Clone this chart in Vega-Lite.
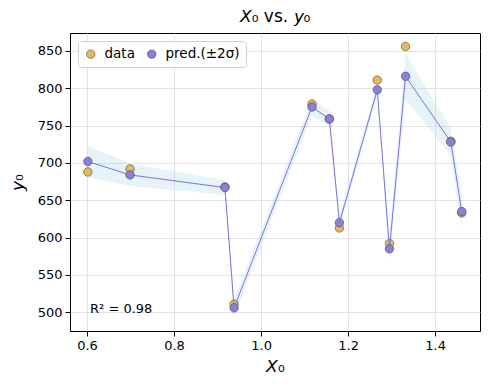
{
  "$schema": "https://vega.github.io/schema/vega-lite/v6.json",
  "width": 410,
  "height": 298,
  "autosize": "none",
  "padding": {"left": 70, "top": 33, "right": 10, "bottom": 59},
  "background": "white",
  "title": {"text": "𝘟₀ vs. 𝘺₀", "font": "DejaVu Sans", "fontSize": 17, "fontWeight": "normal", "color": "black", "offset": 7},
  "config": {
    "view": {"stroke": "black", "strokeWidth": 1},
    "font": "DejaVu Sans",
    "axis": {
      "domain": false,
      "grid": true,
      "gridColor": "#dcdcdc",
      "gridWidth": 0.8,
      "tickColor": "black",
      "tickSize": 5,
      "tickWidth": 1,
      "labelFont": "DejaVu Sans",
      "labelFontSize": 13,
      "labelColor": "black",
      "labelPadding": 3,
      "titleFont": "DejaVu Sans",
      "titleFontSize": 17,
      "titleFontWeight": "normal",
      "titleColor": "black"
    }
  },
  "data": {
    "values": [
      {"x": 0.602, "y": 688, "pred": 702, "lo": 681, "hi": 723},
      {"x": 0.699, "y": 692, "pred": 684, "lo": 669, "hi": 699},
      {"x": 0.917, "y": 668, "pred": 667, "lo": 657, "hi": 677},
      {"x": 0.938, "y": 511, "pred": 506, "lo": 494, "hi": 518},
      {"x": 1.117, "y": 779, "pred": 775, "lo": 764, "hi": 786},
      {"x": 1.157, "y": 759, "pred": 759, "lo": 748, "hi": 770},
      {"x": 1.180, "y": 613, "pred": 620, "lo": 611, "hi": 629},
      {"x": 1.267, "y": 811, "pred": 798, "lo": 790, "hi": 806},
      {"x": 1.295, "y": 592, "pred": 585, "lo": 569, "hi": 601},
      {"x": 1.332, "y": 856, "pred": 816, "lo": 785, "hi": 847},
      {"x": 1.436, "y": 729, "pred": 728, "lo": 710, "hi": 746},
      {"x": 1.461, "y": 633, "pred": 635, "lo": 611, "hi": 659}
    ]
  },
  "encoding": {
    "x": {
      "field": "x", "type": "quantitative",
      "scale": {"domain": [0.561, 1.503], "nice": false, "zero": false},
      "axis": {"values": [0.6, 0.8, 1.0, 1.2, 1.4], "format": ".1f", "title": "𝘟₀", "titlePadding": 6}
    }
  },
  "layer": [
    {
      "mark": {"type": "area", "color": "#add8e6", "opacity": 0.3},
      "encoding": {
        "y": {"field": "lo", "type": "quantitative"},
        "y2": {"field": "hi"}
      }
    },
    {
      "mark": {"type": "point", "filled": true, "size": 72, "opacity": 1, "stroke": "#4a4a4a", "strokeWidth": 0.6},
      "encoding": {
        "y": {
          "field": "y", "type": "quantitative",
          "scale": {"domain": [475, 874], "nice": false, "zero": false},
          "axis": {"values": [500, 550, 600, 650, 700, 750, 800, 850], "title": "𝘺₀", "titlePadding": 11}
        },
        "color": {
          "datum": "data",
          "type": "nominal",
          "scale": {"domain": ["data", "pred.(±2σ)"], "range": ["#e5b95c", "#8a80da"]},
          "legend": {
            "title": null,
            "orient": "top-left",
            "direction": "horizontal",
            "offset": 8,
            "padding": 6,
            "fillColor": "white",
            "strokeColor": "#d0d0d0",
            "cornerRadius": 3,
            "symbolType": "circle",
            "symbolSize": 72,
            "symbolStrokeColor": "#4a4a4a",
            "symbolStrokeWidth": 0.6,
            "labelFont": "DejaVu Sans",
            "labelFontSize": 13.5,
            "labelColor": "black",
            "columnPadding": 10,
            "labelOffset": 7
          }
        }
      }
    },
    {
      "mark": {"type": "line", "color": "#7b72e6", "strokeWidth": 1},
      "encoding": {
        "y": {"field": "pred", "type": "quantitative"}
      }
    },
    {
      "mark": {"type": "point", "filled": true, "size": 72, "opacity": 1, "stroke": "#4a4a4a", "strokeWidth": 0.6},
      "encoding": {
        "y": {"field": "pred", "type": "quantitative"},
        "color": {"datum": "pred.(±2σ)", "type": "nominal"}
      }
    },
    {
      "data": {"values": [{"x": 0.607, "y": 504, "label": "R² = 0.98"}]},
      "mark": {"type": "text", "align": "left", "baseline": "middle", "font": "DejaVu Sans", "fontSize": 13, "color": "black"},
      "encoding": {
        "y": {"field": "y", "type": "quantitative"},
        "text": {"field": "label"}
      }
    }
  ]
}
